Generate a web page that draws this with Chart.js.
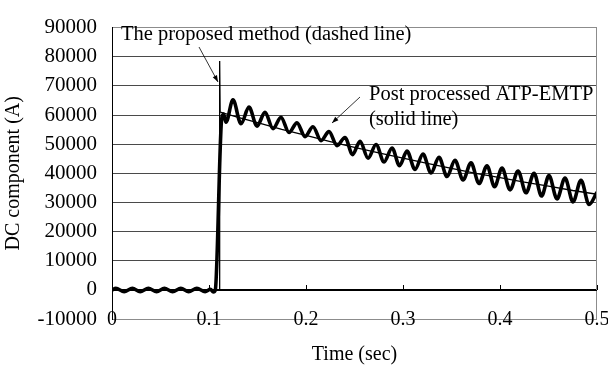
<!DOCTYPE html>
<html>
<head>
<meta charset="utf-8">
<script src="https://cdn.jsdelivr.net/npm/chart.js@4/dist/chart.umd.min.js"></script>
<style>
  body { margin: 0; background: #fff; }
  #wrap { width: 608px; height: 367px; }
</style>
</head>
<body>
<div id="wrap"><canvas id="dc-chart" width="608" height="367"></canvas></div>
<script>
// post processed ATP-EMTP (thick solid line)
const emtpTime = [0, 0.004, 0.0125, 0.021, 0.029, 0.0375, 0.046, 0.054, 0.0625, 0.071, 0.079, 0.0875, 0.096, 0.1015, 0.1045, 0.1065,
  0.113, 0.115, 0.1175,
  0.1247, 0.133, 0.1412, 0.1495, 0.1577, 0.166, 0.1742, 0.1825, 0.1907, 0.199, 0.2072, 0.2155, 0.2237, 0.232,
  0.2402, 0.248, 0.2557, 0.264, 0.2722, 0.2805, 0.2887, 0.2964, 0.3041, 0.3124, 0.3206, 0.3289, 0.3371, 0.3454,
  0.3536, 0.3619, 0.3701, 0.3784, 0.3866, 0.3944, 0.4021, 0.4104, 0.4186, 0.4268, 0.4351, 0.4428, 0.4505, 0.4588,
  0.467, 0.4753, 0.4835, 0.4918, 0.5];
const emtpCurrent = [0, 500, -600, 500, -600, 500, -600, 500, -600, 500, -600, 500, -600, 200, -700, 0,
  58500, 60300, 57500,
  65200, 57000, 62700, 56200, 60900, 55300, 59200, 54000, 57300, 52600, 56000, 51200, 54300, 49500,
  52300, 46400, 51000, 45200, 49900, 43900, 48700, 42600, 47600, 41300, 46600, 40100, 45500, 38900,
  44500, 37700, 43600, 36500, 42600, 35400, 41800, 34300, 40800, 33300, 40000, 32200, 39200, 31200,
  38400, 30200, 37600, 29300, 33500];

// the proposed method (thin line)
const proposedTime = [0, 0.1105, 0.111, 0.1115, 0.13, 0.15, 0.175, 0.2, 0.225, 0.25, 0.275, 0.3, 0.325, 0.35, 0.375, 0.4, 0.425, 0.45, 0.475, 0.5];
const proposedCurrent = [0, 0, 78500, 61000, 59200, 57400, 55100, 53000, 50900, 48900, 47000, 45200, 43400, 41700, 40000, 38500, 37000, 35600, 34100, 32800];

const xTicks = [0, 0.1, 0.2, 0.3, 0.4, 0.5];
const xTickLabels = ["0", "0.1", "0.2", "0.3", "0.4", "0.5"];

const serif = "'Times New Roman', 'Liberation Serif', serif";

const toPoints = (xs, ys) => xs.map((x, i) => ({ x: x, y: ys[i] }));

function arrow(ctx, x1, y1, x2, y2) {
  ctx.beginPath();
  ctx.moveTo(x1, y1);
  ctx.lineTo(x2, y2);
  ctx.stroke();
  const a = Math.atan2(y2 - y1, x2 - x1);
  ctx.beginPath();
  ctx.moveTo(x2, y2);
  ctx.lineTo(x2 - 7 * Math.cos(a - 0.35), y2 - 7 * Math.sin(a - 0.35));
  ctx.lineTo(x2 - 7 * Math.cos(a + 0.35), y2 - 7 * Math.sin(a + 0.35));
  ctx.closePath();
  ctx.fill();
}

// zero axis, its ticks, x labels, right frame and the two notes
const extras = {
  id: "extras",
  afterDraw(chart) {
    const { ctx, chartArea, scales } = chart;
    const x = scales.x, y = scales.y;
    const y0 = y.getPixelForValue(0);
    const yBottom = y.getPixelForValue(-10000);
    ctx.save();
    ctx.strokeStyle = "#8c8c8c";
    ctx.lineWidth = 1;
    ctx.beginPath();
    ctx.moveTo(chartArea.right - 0.5, chartArea.top);
    ctx.lineTo(chartArea.right - 0.5, chartArea.bottom);
    ctx.stroke();

    ctx.strokeStyle = "#000";
    ctx.beginPath();
    ctx.moveTo(chartArea.left, Math.round(y0) + 0.5);
    ctx.lineTo(chartArea.right, Math.round(y0) + 0.5);
    xTicks.forEach(v => {
      const px = Math.round(x.getPixelForValue(v)) + 0.5;
      ctx.moveTo(px, Math.round(y0) - 5);
      ctx.lineTo(px, Math.round(y0));
    });
    ctx.stroke();

    ctx.fillStyle = "#000";
    ctx.font = "20px " + serif;
    ctx.textAlign = "center";
    ctx.textBaseline = "middle";
    xTicks.forEach((v, i) => {
      ctx.fillText(xTickLabels[i], x.getPixelForValue(v), yBottom + 1);
    });

    ctx.textAlign = "left";
    ctx.textBaseline = "alphabetic";
    ctx.font = "20.5px " + serif;
    ctx.fillText("The proposed method (dashed line)", 121, 40);
    ctx.fillText("Post processed ATP-EMTP", 369, 100);
    ctx.fillText("(solid line)", 369, 125);

    ctx.lineWidth = 0.8;
    arrow(ctx, 199, 47, 218, 82);
    arrow(ctx, 360, 97, 332, 123);
    ctx.restore();
  }
};

new Chart(document.getElementById("dc-chart"), {
  type: "line",
  data: {
    datasets: [
      {
        label: "Post processed ATP-EMTP",
        data: toPoints(emtpTime, emtpCurrent),
        borderColor: "#000",
        borderWidth: 3.6,
        pointRadius: 0,
        cubicInterpolationMode: "monotone",
        fill: false
      },
      {
        label: "The proposed method",
        data: toPoints(proposedTime, proposedCurrent),
        borderColor: "#000",
        borderWidth: 1.3,
        pointRadius: 0,
        tension: 0,
        fill: false
      }
    ]
  },
  options: {
    responsive: false,
    animation: false,
    layout: { padding: { top: 17, right: 11, left: 0, bottom: 0 } },
    plugins: {
      legend: { display: false },
      tooltip: { enabled: false }
    },
    scales: {
      x: {
        type: "linear",
        min: 0,
        max: 0.5,
        grid: { display: false },
        border: { display: false },
        ticks: { display: false },
        title: {
          display: true,
          text: "Time (sec)",
          color: "#000",
          font: { family: serif, size: 20 },
          padding: { top: 0, bottom: 0 }
        },
        afterFit(scale) { scale.height = 48; }
      },
      y: {
        min: -10000,
        max: 90000,
        ticks: {
          stepSize: 10000,
          color: "#000",
          padding: 15,
          font: { family: serif, size: 21 },
          callback: v => String(v)
        },
        grid: {
          drawTicks: false,
          color: c => (c.tick.value === 90000 || c.tick.value === -10000) ? "#8c8c8c" : (c.tick.value === 0 ? "#000" : "#4a4a4a"),
          lineWidth: 1
        },
        border: { display: true, color: "#000", width: 1 },
        title: {
          display: true,
          text: "DC component (A)",
          color: "#000",
          font: { family: serif, size: 20 },
          padding: { top: 2, bottom: 0 }
        },
        afterFit(scale) { scale.width = 112; }
      }
    }
  },
  plugins: [extras]
});
</script>
</body>
</html>
